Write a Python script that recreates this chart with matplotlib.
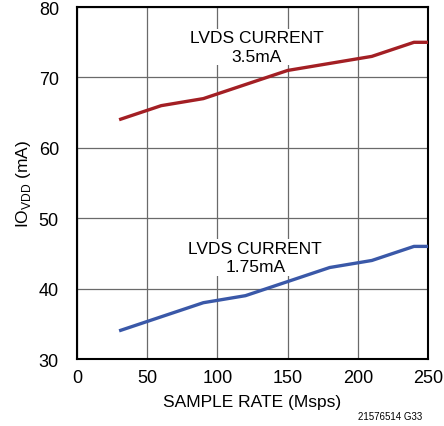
import matplotlib
matplotlib.use("Agg")
import matplotlib.pyplot as plt
from matplotlib import font_manager

sample_rate = [30, 60, 90, 120, 150, 180, 210, 240, 250]
io_3p5 = [64, 66, 67, 69, 71, 72, 73, 75, 75]
io_1p75 = [34, 36, 38, 39, 41, 43, 44, 46, 46]
xticks = [0, 50, 100, 150, 200, 250]
yticks = [30, 40, 50, 60, 70, 80]

names = {f.name for f in font_manager.fontManager.ttflist}
fam = ['Liberation Sans Narrow'] if 'Liberation Sans Narrow' in names else ['Liberation Sans']
plt.rcParams['font.family'] = fam + ['DejaVu Sans']
plt.rcParams['mathtext.fontset'] = 'custom'
plt.rcParams['mathtext.rm'] = fam[0]

fig = plt.figure(figsize=(4.44, 4.27), dpi=100)
ax = fig.add_axes([0.1734, 0.1569, 0.964 - 0.1734, 0.981 - 0.1569])

ax.plot(sample_rate, io_3p5, color='#A31F24', lw=2.4, solid_capstyle='butt', zorder=3)
ax.plot(sample_rate, io_1p75, color='#3A58A8', lw=2.4, solid_capstyle='butt', zorder=3)

ax.set_xlim(0, 250)
ax.set_ylim(30, 80)
ax.set_xticks(xticks)
ax.set_yticks(yticks)
ax.grid(True, color='#6a6a6a', lw=0.9)
ax.set_axisbelow(True)
ax.tick_params(length=0, labelsize=13)
ax.tick_params(axis='y', pad=13)
ax.tick_params(axis='x', pad=7)
for s in ax.spines.values():
    s.set_linewidth(1.5)
    s.set_color('black')

ax.text(128, 74.3, 'LVDS CURRENT\n3.5mA', ha='center', va='center', fontsize=12.5,
        linespacing=1.3, bbox=dict(facecolor='white', edgecolor='none', pad=1), zorder=2)
ax.text(127, 44.4, 'LVDS CURRENT\n1.75mA', ha='center', va='center', fontsize=12.5,
        linespacing=1.3, bbox=dict(facecolor='white', edgecolor='none', pad=1), zorder=2)

ax.set_xlabel('SAMPLE RATE (Msps)', fontsize=12.5, labelpad=6)
ax.set_ylabel(r'IO$_{\mathregular{VDD}}$ (mA)', fontsize=12.5, labelpad=4)

fig.text(0.952, 0.012, '21576514 G33', ha='right', va='bottom', fontsize=7)

fig.savefig('out.png', dpi=100)
